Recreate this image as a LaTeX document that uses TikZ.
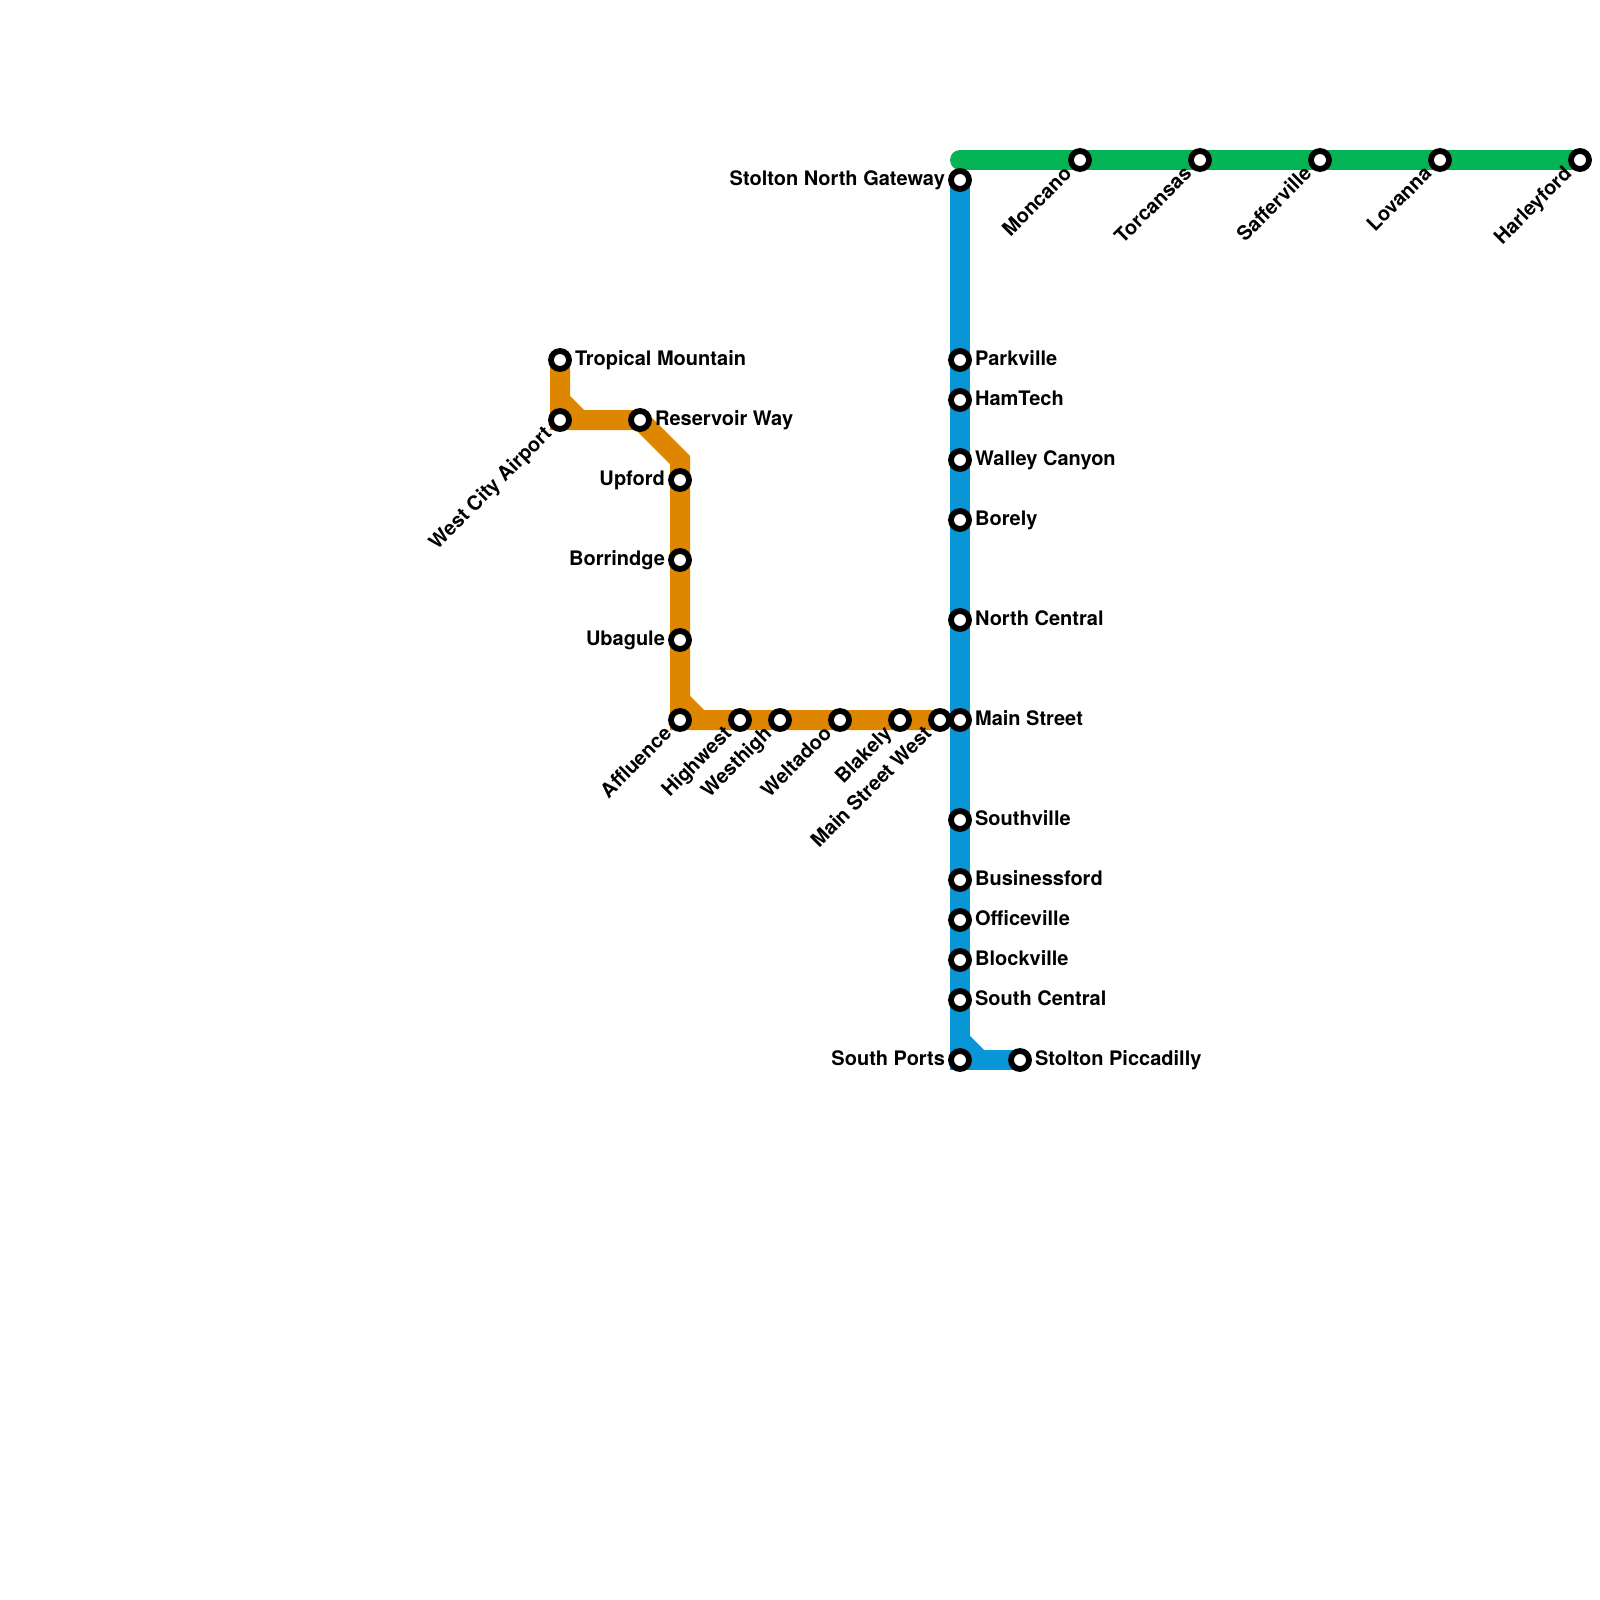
\documentclass[tikz,border=0pt]{standalone}
\usepackage{fontspec}
\setmainfont{TeX Gyre Heros}
\usepackage{tikz}
\usetikzlibrary{positioning, backgrounds}
\definecolor{lineorange}{HTML}{DF8600}
\definecolor{lineblue}{HTML}{0896D7}
\definecolor{linegreen}{HTML}{04B354}
\tikzset{
  stop/.style={circle, draw=black, fill=white, line width=2.9pt, minimum size=9pt,
    inner sep=0pt, on grid},
  stoptxt/.style={font=\fontsize{10}{12}\selectfont\bfseries, inner sep=0pt,
    text height=7pt, text depth=1.6pt},
  diag/.style={stoptxt, rotate=45, anchor=east, inner sep=1.75pt},
  orangeline/.style={draw=lineorange, line width=10pt},
  blueline/.style={draw=lineblue, line width=10pt},
  greenline/.style={draw=linegreen, line width=10pt, line cap=round},
}
\begin{document}
\begin{tikzpicture}[x=10pt, y=-10pt]
  \useasboundingbox (0,0) rectangle (80,80);

  % orange line
  \node[stop] (tropical) at (28,18) {};
  \node[stop, below=30pt of tropical] (westcity) {};
  \node[stop, right=40pt of westcity] (reservoir) {};
  \node[stop] (upford) at (34,24) {};
  \node[stop, below=40pt of upford] (borrindge) {};
  \node[stop, below=40pt of borrindge] (ubagule) {};
  \node[stop, below=40pt of ubagule] (affluence) {};
  \node[stop, right=30pt of affluence] (highwest) {};
  \node[stop, right=20pt of highwest] (westhigh) {};
  \node[stop, right=30pt of westhigh] (weltadoo) {};
  \node[stop, right=30pt of weltadoo] (blakely) {};
  \node[stop, right=20pt of blakely] (mainwest) {};

  % blue line
  \node[stop] (stoltonnorth) at (48,9) {};
  \node[stop, below=90pt of stoltonnorth] (parkville) {};
  \node[stop, below=20pt of parkville] (hamtech) {};
  \node[stop, below=30pt of hamtech] (walley) {};
  \node[stop, below=30pt of walley] (borely) {};
  \node[stop, below=50pt of borely] (northcentral) {};
  \node[stop, below=50pt of northcentral] (mainstreet) {};
  \node[stop, below=50pt of mainstreet] (southville) {};
  \node[stop, below=30pt of southville] (businessford) {};
  \node[stop, below=20pt of businessford] (officeville) {};
  \node[stop, below=20pt of officeville] (blockville) {};
  \node[stop, below=20pt of blockville] (southcentral) {};
  \node[stop, below=30pt of southcentral] (southports) {};
  \node[stop, right=30pt of southports] (piccadilly) {};

  % green line
  \coordinate (greenstart) at (48,8);
  \node[stop] (moncano) at (54,8) {};
  \node[stop, right=60pt of moncano] (torcansas) {};
  \node[stop, right=60pt of torcansas] (safferville) {};
  \node[stop, right=60pt of safferville] (lovanna) {};
  \node[stop, right=70pt of lovanna] (harleyford) {};

  % labels
  \node[stoptxt, right=1.4pt of tropical] (tropicaltxt) {Tropical Mountain};
  \node[diag] (westcitytxt) at (westcity.225) {West City Airport};
  \node[stoptxt, right=1.4pt of reservoir] (reservoirtxt) {Reservoir Way};
  \node[stoptxt, left=1.4pt of upford] (upfordtxt) {Upford};
  \node[stoptxt, left=1.4pt of borrindge] (borrindgetxt) {Borrindge};
  \node[stoptxt, left=1.4pt of ubagule] (ubaguletxt) {Ubagule};
  \node[diag] (affluencetxt) at (affluence.225) {Affluence};
  \node[diag] (highwesttxt) at (highwest.225) {Highwest};
  \node[diag] (westhightxt) at (westhigh.225) {Westhigh};
  \node[diag] (weltadootxt) at (weltadoo.225) {Weltadoo};
  \node[diag] (blakelytxt) at (blakely.225) {Blakely};
  \node[diag] (mainwesttxt) at (mainwest.225) {Main Street West};

  \node[stoptxt, left=1.4pt of stoltonnorth] (stoltonnorthtxt) {Stolton North Gateway};
  \node[stoptxt, right=1.4pt of parkville] (parkvilletxt) {Parkville};
  \node[stoptxt, right=1.4pt of hamtech] (hamtechtxt) {HamTech};
  \node[stoptxt, right=1.4pt of walley] (walleytxt) {Walley Canyon};
  \node[stoptxt, right=1.4pt of borely] (borelytxt) {Borely};
  \node[stoptxt, right=1.4pt of northcentral] (northcentraltxt) {North Central};
  \node[stoptxt, right=1.4pt of mainstreet] (mainstreettxt) {Main Street};
  \node[stoptxt, right=1.4pt of southville] (southvilletxt) {Southville};
  \node[stoptxt, right=1.4pt of businessford] (businessfordtxt) {Businessford};
  \node[stoptxt, right=1.4pt of officeville] (officevilletxt) {Officeville};
  \node[stoptxt, right=1.4pt of blockville] (blockvilletxt) {Blockville};
  \node[stoptxt, right=1.4pt of southcentral] (southcentraltxt) {South Central};
  \node[stoptxt, left=1.4pt of southports] (southportstxt) {South Ports};
  \node[stoptxt, right=1.4pt of piccadilly] (piccadillytxt) {Stolton Piccadilly};

  \node[diag] (moncanotxt) at (moncano.225) {Moncano};
  \node[diag] (torcansastxt) at (torcansas.225) {Torcansas};
  \node[diag] (saffervilletxt) at (safferville.225) {Safferville};
  \node[diag] (lovannatxt) at (lovanna.225) {Lovanna};
  \node[diag] (harleyfordtxt) at (harleyford.225) {Harleyford};

  % bends
  \coordinate (tropicalbend) at (28,20);
  \coordinate (westcitybend) at (29,21);
  \coordinate (upfordbend) at (34,23);
  \coordinate (ubagulebend) at (34,35);
  \coordinate (affluencebend) at (35,36);
  \coordinate (southbend) at (48,52);
  \coordinate (portsbend) at (49,53);

  \begin{scope}[on background layer]
    \draw[orangeline] (tropical.center) -- (westcity.center) -- (reservoir.center) -- (upfordbend) -- (affluence.center) -- (mainwest.center);
    \draw[orangeline] (tropicalbend) -- (westcitybend);
    \draw[orangeline] (ubagulebend) -- (affluencebend);
    \draw[blueline] (stoltonnorth.center) -- (southports.center) -- (piccadilly.center);
    \draw[blueline] (southbend) -- (portsbend);
    \draw[greenline] (greenstart) -- (harleyford.center);
  \end{scope}
\end{tikzpicture}
\end{document}
